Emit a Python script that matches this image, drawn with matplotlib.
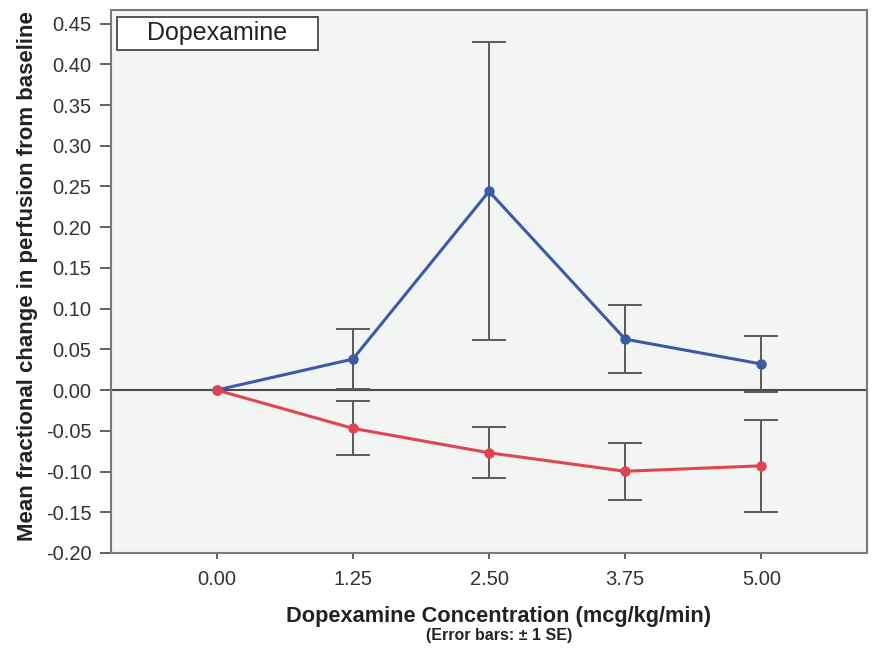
import matplotlib
matplotlib.use("Agg")
import matplotlib.pyplot as plt
from matplotlib.patches import Rectangle

plt.rcParams['font.family'] = ['Liberation Sans', 'DejaVu Sans']

conc = [0.00, 1.25, 2.50, 3.75, 5.00]
tick_labels = ["0.00", "1.25", "2.50", "3.75", "5.00"]
blue_mean = [0.000, 0.038, 0.244, 0.0625, 0.032]
blue_se = [0.000, 0.037, 0.183, 0.0415, 0.034]
red_mean = [0.000, -0.047, -0.077, -0.0997, -0.093]
red_se = [0.000, 0.033, 0.0315, 0.035, 0.0565]
yticks = [-0.20, -0.15, -0.10, -0.05, 0.00, 0.05, 0.10, 0.15, 0.20, 0.25, 0.30, 0.35, 0.40, 0.45]

fig = plt.figure(figsize=(8.74, 6.49), dpi=100)
ax = fig.add_axes([0.127, 0.148, 0.865, 0.837])
ax.set_facecolor('#f3f4f4')

ax.axhline(0, color='#4a4a4a', lw=1.5, zorder=1)

for m, se, c in [(blue_mean, blue_se, '#3b5ba5'), (red_mean, red_se, '#e0454f')]:
    ax.errorbar(conc[1:], m[1:], yerr=se[1:], fmt='none', ecolor='#5a5a5a',
                elinewidth=1.4, capsize=12, capthick=1.4, zorder=2)
    ax.plot(conc, m, color=c, lw=2.2, marker='o', markersize=6.5, zorder=3)

ax.set_xlim(-0.97, 5.97)
ax.set_ylim(-0.20, 0.467)
ax.set_xticks(conc)
ax.set_xticklabels(tick_labels)
ax.set_yticks(yticks)
ax.set_yticklabels([f"{v:.2f}" for v in yticks])
ax.tick_params(axis='y', direction='out', length=8, width=1.3, color='#555555',
               labelsize=14.5, labelcolor='#333333', pad=6)
ax.tick_params(axis='x', direction='out', length=4, width=1.3, color='#555555',
               labelsize=14.5, labelcolor='#333333', pad=8)
for s in ax.spines.values():
    s.set_color('#7a7a7a')
    s.set_linewidth(1.5)

fig.text(0.031, 0.575, "Mean fractional change in perfusion from baseline", rotation=90,
         ha='center', va='center', fontsize=16, fontweight='bold', color='#222222')
fig.text(0.571, 0.050, "Dopexamine Concentration (mcg/kg/min)", ha='center', va='center',
         fontsize=15.7, fontweight='bold', color='#222222')
fig.text(0.571, 0.021, "(Error bars: \u00b1 1 SE)", ha='center', va='center',
         fontsize=11.5, fontweight='bold', color='#222222')

fig.patches.append(Rectangle((0.1339, 0.923), 0.230, 0.0508, transform=fig.transFigure,
                             facecolor='white', edgecolor='#555555', lw=1.4, zorder=5))
fig.text(0.2489, 0.9484, "Dopexamine", ha='center', va='center', fontsize=18,
         color='#222222', zorder=6)

fig.savefig("out.png", dpi=100)
